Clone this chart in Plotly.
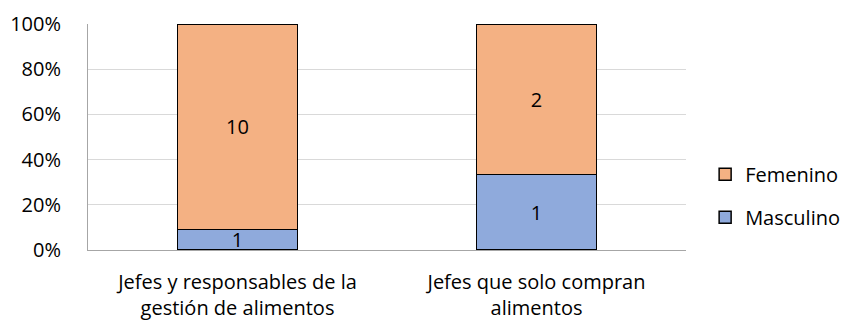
import plotly.graph_objects as go

categories = ["Jefes y responsables de la<br>gestión de alimentos",
              "Jefes que solo compran<br>alimentos"]
masculino = [1, 1]
femenino = [10, 2]
ytick_vals = [0, 20, 40, 60, 80, 100]
ytick_text = ["0%", "20%", "40%", "60%", "80%", "100%"]

FONT = "'Open Sans', 'Noto Sans', sans-serif"
FS = 20

fig = go.Figure()
fig.add_trace(go.Bar(
    x=categories, y=masculino, name="Masculino",
    marker=dict(color="#8FAADC", line=dict(color="#000000", width=1.5)),
    text=[str(v) for v in masculino], textposition="inside", textangle=0,
    insidetextanchor="middle", textfont=dict(color="#000000", size=FS),
    width=0.4, legendgroup="m", legendrank=2,
))
fig.add_trace(go.Bar(
    x=categories, y=femenino, name="Femenino",
    marker=dict(color="#F4B183", line=dict(color="#000000", width=1.5)),
    text=[str(v) for v in femenino], textposition="inside", textangle=0,
    insidetextanchor="middle", textfont=dict(color="#000000", size=FS),
    width=0.4, legendgroup="f", legendrank=1,
))

fig.update_layout(
    barmode="stack", barnorm="percent",
    width=846, height=320,
    margin=dict(l=88, r=160, t=24, b=70, autoexpand=False),
    paper_bgcolor="white", plot_bgcolor="white",
    font=dict(family=FONT, size=FS, color="#000000"),
    uniformtext=dict(minsize=FS, mode="show"),
    legend=dict(
        x=1.032, y=0.24, xanchor="left", yanchor="middle",
        traceorder="grouped", tracegroupgap=14,
        font=dict(size=FS), itemwidth=30,
    ),
    showlegend=True,
)
fig.update_yaxes(
    range=[0, 100], tickvals=ytick_vals, ticktext=ytick_text,
    showgrid=True, gridcolor="#D9D9D9", gridwidth=1,
    showline=True, linecolor="#A6A6A6", linewidth=1,
    zeroline=False, ticks="", ticklabelstandoff=22,
    tickfont=dict(size=FS), automargin=False,
)
fig.update_xaxes(
    showline=True, linecolor="#A6A6A6", linewidth=1,
    ticks="", tickfont=dict(size=FS), ticklabelstandoff=14,
    automargin=False,
)

fig.write_html("out.html")
